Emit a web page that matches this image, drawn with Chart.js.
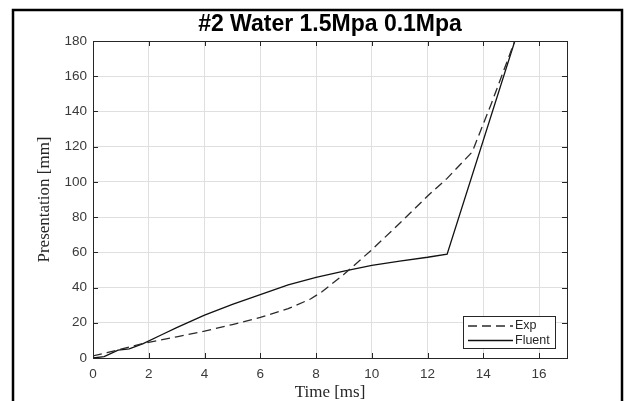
<!DOCTYPE html>
<html>
<head>
<meta charset="utf-8">
<title>#2 Water 1.5Mpa 0.1Mpa</title>
<script src="https://cdn.jsdelivr.net/npm/chart.js@4.4.1/dist/chart.umd.min.js"></script>
<style>
  html, body { margin: 0; padding: 0; background: #fff; }
  #wrap { position: relative; width: 628px; height: 401px; }
</style>
</head>
<body>
<div id="wrap"><canvas id="chart"></canvas></div>
<script>
// Measured penetration vs. simulation
const expTime    = [0, 0.5, 1.0, 1.8, 3.0, 4.0, 5.0, 6.0, 7.0, 7.8, 8.2, 9.0, 10.0, 11.0, 12.0, 12.7, 13.6, 14.3, 15.15];
const expPos     = [1.2, 3.0, 5.0, 8.3, 12.0, 15.3, 19.0, 23.0, 28.0, 33.5, 37.5, 47.5, 61.5, 76.5, 92.0, 102.0, 117.0, 145.0, 181.0];
const fluentTime = [0, 0.4, 0.9, 1.3, 1.8, 2.5, 3.0, 3.5, 4.0, 5.0, 6.0, 7.0, 8.0, 9.0, 10.0, 11.0, 12.0, 12.7, 15.15];
const fluentPos  = [0, 0.8, 4.5, 5.2, 8.2, 13.5, 17.2, 20.8, 24.3, 30.5, 36.0, 41.5, 45.8, 49.3, 52.6, 55.0, 57.2, 59.0, 181.0];

const xTicks = [0, 2, 4, 6, 8, 10, 12, 14, 16];
const yTicks = [0, 20, 40, 60, 80, 100, 120, 140, 160, 180];

const TITLE = '#2 Water 1.5Mpa 0.1Mpa';
const AXIS_COLOR = '#262626';
const TICK_COLOR = '#3a3a3a';
const GRID_COLOR = '#dfdfdf';
const TICK_FONT = { family: 'Liberation Sans, Arial, sans-serif', size: 13.5 };
const LABEL_FONT = { family: 'Liberation Serif, Times New Roman, serif', size: 17, lineHeight: 1 };

const toPoints = (xs, ys) => xs.map((x, i) => ({ x, y: ys[i] }));

// outer figure frame + title centred over the axes
const figureFrame = {
  id: 'figureFrame',
  beforeDraw(chart) {
    const ctx = chart.ctx;
    ctx.save();
    ctx.fillStyle = '#fff';
    ctx.fillRect(0, 0, chart.width, chart.height);
    ctx.strokeStyle = '#000';
    ctx.lineWidth = 2.5;
    ctx.strokeRect(13, 10, 609, 400);
    ctx.restore();
  },
  afterDraw(chart) {
    const { ctx, chartArea: a } = chart;
    ctx.save();
    ctx.fillStyle = '#000';
    ctx.font = 'bold 23px Liberation Sans, Arial, sans-serif';
    ctx.textAlign = 'center';
    ctx.textBaseline = 'middle';
    ctx.fillText(TITLE, (a.left + a.right) / 2, 25);
    ctx.restore();
  }
};

// box around the axes with inward ticks on all four sides
const axesBox = {
  id: 'axesBox',
  afterDatasetsDraw(chart) {
    const { ctx, chartArea: a, scales } = chart;
    const len = 5;
    ctx.save();
    ctx.strokeStyle = AXIS_COLOR;
    ctx.lineWidth = 1;
    ctx.strokeRect(Math.round(a.left) + 0.5, Math.round(a.top) + 0.5,
                   Math.round(a.right - a.left), Math.round(a.bottom - a.top));
    ctx.beginPath();
    xTicks.forEach(v => {
      const px = Math.round(scales.x.getPixelForValue(v)) + 0.5;
      ctx.moveTo(px, a.bottom); ctx.lineTo(px, a.bottom - len);
      ctx.moveTo(px, a.top); ctx.lineTo(px, a.top + len);
    });
    yTicks.forEach(v => {
      const py = Math.round(scales.y.getPixelForValue(v)) + 0.5;
      ctx.moveTo(a.left, py); ctx.lineTo(a.left + len, py);
      ctx.moveTo(a.right, py); ctx.lineTo(a.right - len, py);
    });
    ctx.stroke();
    ctx.restore();
  }
};

// legend box in the lower right corner
const boxLegend = {
  id: 'boxLegend',
  afterDraw(chart) {
    const { ctx, chartArea: a } = chart;
    const w = 92, h = 32;
    const x0 = a.right - 12 - w, y0 = a.bottom - 10 - h;
    ctx.save();
    ctx.fillStyle = '#fff';
    ctx.fillRect(x0, y0, w, h);
    ctx.strokeStyle = AXIS_COLOR;
    ctx.lineWidth = 1;
    ctx.strokeRect(x0 + 0.5, y0 + 0.5, w, h);
    ctx.font = '12.5px Liberation Sans, Arial, sans-serif';
    ctx.textBaseline = 'middle';
    chart.data.datasets.forEach((ds, i) => {
      const y = y0 + 10 + i * 14.5;
      ctx.strokeStyle = ds.borderColor;
      ctx.lineWidth = ds.borderWidth;
      ctx.setLineDash(ds.borderDash || []);
      ctx.beginPath();
      ctx.moveTo(x0 + 5, y);
      ctx.lineTo(x0 + 50, y);
      ctx.stroke();
      ctx.setLineDash([]);
      ctx.fillStyle = AXIS_COLOR;
      ctx.fillText(ds.label, x0 + 52, y);
    });
    ctx.restore();
  }
};

new Chart(document.getElementById('chart'), {
  type: 'line',
  data: {
    datasets: [
      {
        label: 'Exp',
        data: toPoints(expTime, expPos),
        borderColor: '#2a2a2a',
        borderWidth: 1.3,
        borderDash: [9, 5],
        pointRadius: 0,
        tension: 0
      },
      {
        label: 'Fluent',
        data: toPoints(fluentTime, fluentPos),
        borderColor: '#111',
        borderWidth: 1.3,
        pointRadius: 0,
        tension: 0
      }
    ]
  },
  options: {
    responsive: true,
    maintainAspectRatio: false,
    animation: false,
    layout: { padding: { left: 0, right: 61, top: 41, bottom: 0 } },
    plugins: {
      legend: { display: false },
      tooltip: { enabled: false },
      title: { display: false }
    },
    scales: {
      x: {
        type: 'linear',
        min: 0,
        max: 17,
        afterBuildTicks: s => { s.ticks = xTicks.map(v => ({ value: v })); },
        afterFit: s => { s.height = 43; },
        grid: { color: GRID_COLOR, drawTicks: false },
        border: { display: false },
        ticks: { color: TICK_COLOR, font: TICK_FONT, padding: 8, maxRotation: 0 },
        title: { display: true, text: 'Time [ms]', color: AXIS_COLOR, font: LABEL_FONT, padding: { top: 0, bottom: 0 } }
      },
      y: {
        type: 'linear',
        min: 0,
        max: 180,
        afterBuildTicks: s => { s.ticks = yTicks.map(v => ({ value: v })); },
        afterFit: s => { s.width = 93; },
        grid: { color: GRID_COLOR, drawTicks: false },
        border: { display: false },
        ticks: { color: TICK_COLOR, font: TICK_FONT, padding: 6 },
        title: { display: true, text: 'Presentation [mm]', color: AXIS_COLOR, font: LABEL_FONT, padding: { top: 36, bottom: 0 } }
      }
    }
  },
  plugins: [figureFrame, axesBox, boxLegend]
});
</script>
</body>
</html>
